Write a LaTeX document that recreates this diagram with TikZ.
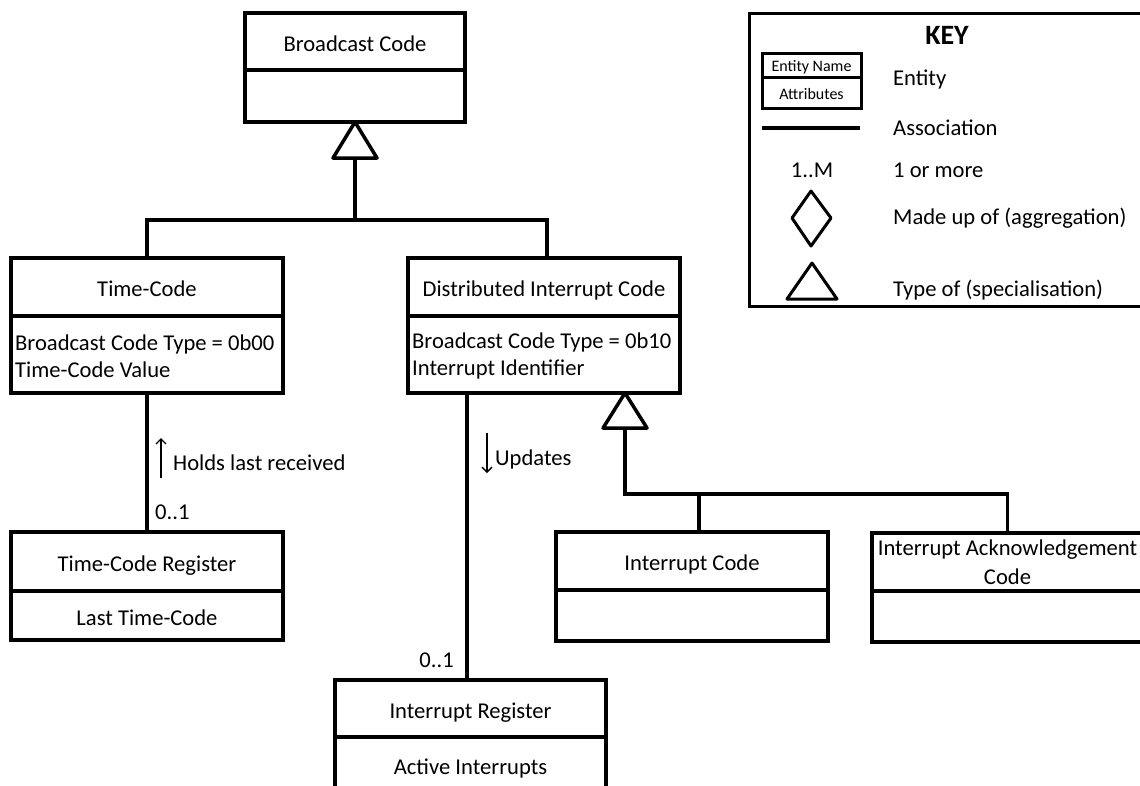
\documentclass[tikz,border=0pt]{standalone}
\usepackage{fontspec}
\setmainfont{Carlito}
\usetikzlibrary{arrows.meta}
\begin{document}
\begin{tikzpicture}[x=1pt,y=-1pt,
  every node/.style={font=\fontsize{22.6}{27}\selectfont, inner sep=0pt},
  entbase/.style={draw, line width=3.5pt, outer sep=0pt, fill=white, anchor=north west,
    align=center, minimum width=272pt},
  ent/.style={entbase, text height=19pt, text depth=0pt},
  attrtext/.style={anchor=west, align=left, yshift=-1.5pt},
  conn/.style={line width=3.5pt},
  gen/.style={line width=3.5pt, fill=white, line join=round},
  dirarrow/.style={line width=1.3pt, -{Straight Barb[length=5pt,width=10pt]}},
  lbl/.style={anchor=west},
  keyent/.style={entbase, line width=3pt, minimum width=99pt, text height=13.5pt, text depth=0.5pt,
    font=\fontsize{16}{18}\selectfont},
  keysym/.style={line width=3pt, line join=round},
]
\clip (0,0) rectangle (1140,785);
\fill[white] (0,0) rectangle (1140,785);

% ---------- entities ----------
\node[ent, minimum width=220pt, minimum height=57pt] (bc) at (245,13) {Broadcast Code};
\node[ent, minimum width=220pt, minimum height=52pt] (bca) at (bc.south west) {};

\node[ent, minimum height=58pt] (tc) at (11,258) {Time-Code};
\node[ent, minimum height=77pt] (tca) at (tc.south west) {};
\node[attrtext] (tcat) at ([xshift=4pt]tca.west)
  {Broadcast Code Type = 0b00\\Time-Code Value};

\node[ent, minimum height=58pt] (dic) at (408,258) {Distributed Interrupt Code};
\node[ent, minimum height=77pt] (dica) at (dic.south west) {};
\node[attrtext] (dicat) at ([xshift=4pt]dica.west)
  {Broadcast Code Type = 0b10\\Interrupt Identifier};

\node[ent, minimum height=59pt] (tcr) at (11,532) {Time-Code Register};
\node[ent, minimum height=49pt] (tcra) at (tcr.south west) {Last Time-Code};

\node[ent, minimum width=271pt, minimum height=57pt] (ir) at (335,680) {Interrupt Register};
\node[ent, minimum width=271pt, minimum height=56pt] (ir a) at (ir.south west) {Active Interrupts};

\node[ent, minimum height=58pt] (ic) at (556,532) {Interrupt Code};
\node[ent, minimum height=51pt] (ica) at (ic.south west) {};

\node[entbase, minimum width=271pt, minimum height=58pt, font=\fontsize{22.6}{29}\selectfont,
  yshift=-1pt] (iac) at (872,532) {Interrupt Acknowledgement\\Code};
\node[ent, minimum width=271pt, minimum height=51pt] (iaca) at (iac.south west) {};

% ---------- specialisation of Broadcast Code ----------
\coordinate (j1) at (355,220);
\coordinate (dicn) at ([xshift=3pt]dic.north);
\draw[conn] (bca.south) -- (j1);
\draw[conn] (tc.north) |- (j1) -| (dicn);
\draw[gen] (bca.south) -- ++(22,36) -- ++(-44,0) -- cycle;

% ---------- specialisation of Distributed Interrupt Code ----------
\path (dica.south) ++(81,0) coordinate (t2);
\coordinate (j2) at (625,494);
\coordinate (icn) at ([xshift=7pt]ic.north);
\draw[conn] (t2) -- (j2) -| (iac.north);
\draw[conn] (icn) -- (icn |- j2);
\draw[gen] (t2) -- ++(22,35) -- ++(-44,0) -- cycle;

% ---------- associations ----------
\draw[conn] (tca.south) -- (tcr.north);
\coordinate (irn) at ([xshift=-3.5pt]ir.north);
\draw[conn] (irn |- dica.south) -- (irn);

\coordinate (h1) at (161,478);
\coordinate (h2) at (161,438);
\draw[dirarrow] (h1) -- (h2);
\node[lbl] (hl) at (173,463) {Holds last received};
\node[lbl] (m1) at (155,512) {0..1};

\coordinate (d1) at (487,433);
\coordinate (d2) at (487,473);
\draw[dirarrow] (d1) -- (d2);
\node[lbl] (upd) at (495,459) {Updates};
\node[anchor=east] (m2) at (454,660) {0..1};

% ---------- key ----------
\node[draw, line width=3pt, anchor=north west, minimum width=402pt, minimum height=293pt] (key) at (748,12) {};
\node[font=\bfseries\fontsize{28}{30}\selectfont] (keyt) at (947,35) {KEY};

\node[keyent, minimum height=24pt] (ke) at (762,53) {Entity Name};
\node[keyent, minimum height=31pt] (kea) at (ke.south west) {Attributes};
\node[lbl] (kel) at (893,80) {Entity};

\coordinate (ka1) at (762,128);
\coordinate (ka2) at (860,128);
\draw[conn] (ka1) -- (ka2);
\node[lbl] (kal) at (893,128) {Association};

\node (km) at (812,170) {1..M};
\node[lbl] (kml) at (893,170) {1 or more};

\draw[keysym] (811,191) -- (831,218) -- (811,246) -- (792,218) -- cycle;
\node[lbl] (kdl) at (893,218) {Made up of (aggregation)};

\draw[keysym] (812,263) -- (837,299) -- (787,299) -- cycle;
\node[lbl] (ktl) at (893,290) {Type of (specialisation)};
\end{tikzpicture}
\end{document}
